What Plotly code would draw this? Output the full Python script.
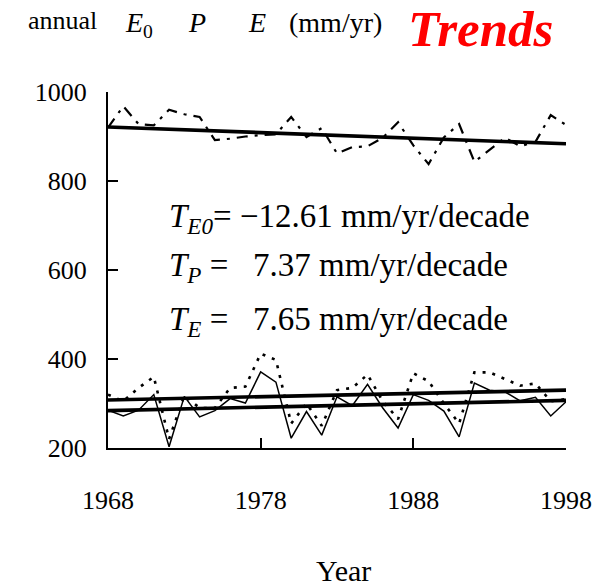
import plotly.graph_objects as go

# Annual series, 1968-1998 (mm/yr)
years = list(range(1968, 1999))
e0_values = [920, 968, 928, 925, 960, 950, 944, 892, 895, 900, 903,
             905, 944, 899, 919, 862, 876, 878, 897, 932, 880, 838,
             898, 928, 843, 870, 897, 878, 888, 948, 926]
p_values = [320, 305, 335, 360, 220, 318, 290, 290, 335, 338, 412,
            398, 255, 300, 250, 330, 335, 365, 305, 265, 368, 350,
            300, 255, 370, 370, 355, 340, 345, 305, 310]
e_values = [285, 272, 285, 320, 203, 316, 270, 284, 311, 301, 371,
            348, 222, 282, 229, 315, 295, 343, 290, 245, 320, 307,
            283, 225, 346, 330, 326, 306, 314, 272, 304]

# Linear trends (mm/yr per decade) and their level at the 1983 mid-point
trend_slopes = {"E0": -12.61, "P": 7.37, "E": 7.65}
trend_mid = {"E0": 902.5, "P": 319.0, "E": 295.5}
mid_year = 1983

x_ticks = [1968, 1978, 1988, 1998]
y_ticks = [200, 400, 600, 800, 1000]

SERIF = "Liberation Serif, Times New Roman, serif"

fig = go.Figure()

fig.add_trace(go.Scatter(x=years, y=e0_values, mode="lines",
                         line=dict(color="black", width=2.2, dash="11px,7px,3px,7px")))
fig.add_trace(go.Scatter(x=years, y=p_values, mode="lines",
                         line=dict(color="black", width=2.6, dash="3px,7px")))
fig.add_trace(go.Scatter(x=years, y=e_values, mode="lines",
                         line=dict(color="black", width=1.5)))

for key in ["E0", "P", "E"]:
    slope = trend_slopes[key] / 10.0
    ends = [years[0], years[-1]]
    vals = [trend_mid[key] + slope * (yr - mid_year) for yr in ends]
    fig.add_trace(go.Scatter(x=ends, y=vals, mode="lines",
                             line=dict(color="black", width=3.6)))


def note(text, x, y, size, color="black", xanchor="left", pad=1):
    fig.add_annotation(text=text, xref="paper", yref="paper", x=x, y=y,
                       xanchor=xanchor, yanchor="middle", showarrow=False,
                       borderpad=pad,
                       font=dict(family=SERIF, size=size, color=color))


# Trend annotations
note("<i>T</i><sub><i>E0</i></sub>= \u221212.61 mm/yr/decade", 0.129, 0.646, 33)
note("<i>T</i><sub><i>P</i></sub> =   7.37 mm/yr/decade", 0.129, 0.506, 33)
note("<i>T</i><sub><i>E</i></sub> =   7.65 mm/yr/decade", 0.129, 0.354, 33)

# Header line
note("annual", -0.18, 1.2, 26)
note("<i>E</i><sub>0</sub>", 0.032, 1.19, 28)
note("<i>P</i>", 0.170, 1.195, 28)
note("<i>E</i>", 0.301, 1.195, 28)
note("(mm/yr)", 0.390, 1.195, 28)
note("<b><i>Trends</i></b>", 0.652, 1.178, 51, color="#ff0000", pad=0)

note("Year", 0.515, -0.345, 30, xanchor="center")

fig.update_xaxes(range=[1968, 1998], tickvals=x_ticks, ticktext=[str(v) for v in x_ticks],
                 ticks="inside", ticklen=10, tickwidth=2, tickcolor="black",
                 showline=True, linecolor="black", linewidth=2, mirror=False,
                 showgrid=False, zeroline=False, ticklabelstandoff=28,
                 tickfont=dict(family=SERIF, size=26, color="black"))
fig.update_yaxes(range=[200, 1000], tickvals=y_ticks,
                 ticks="inside", ticklen=10, tickwidth=2, tickcolor="black",
                 showline=True, linecolor="black", linewidth=2, mirror=False,
                 showgrid=False, zeroline=False, ticklabelstandoff=14,
                 tickfont=dict(family=SERIF, size=26, color="black"))

fig.update_layout(width=604, height=587, showlegend=False,
                  margin=dict(l=108, r=38, t=92, b=139, pad=0),
                  paper_bgcolor="white", plot_bgcolor="white")

fig.write_html("out.html")
